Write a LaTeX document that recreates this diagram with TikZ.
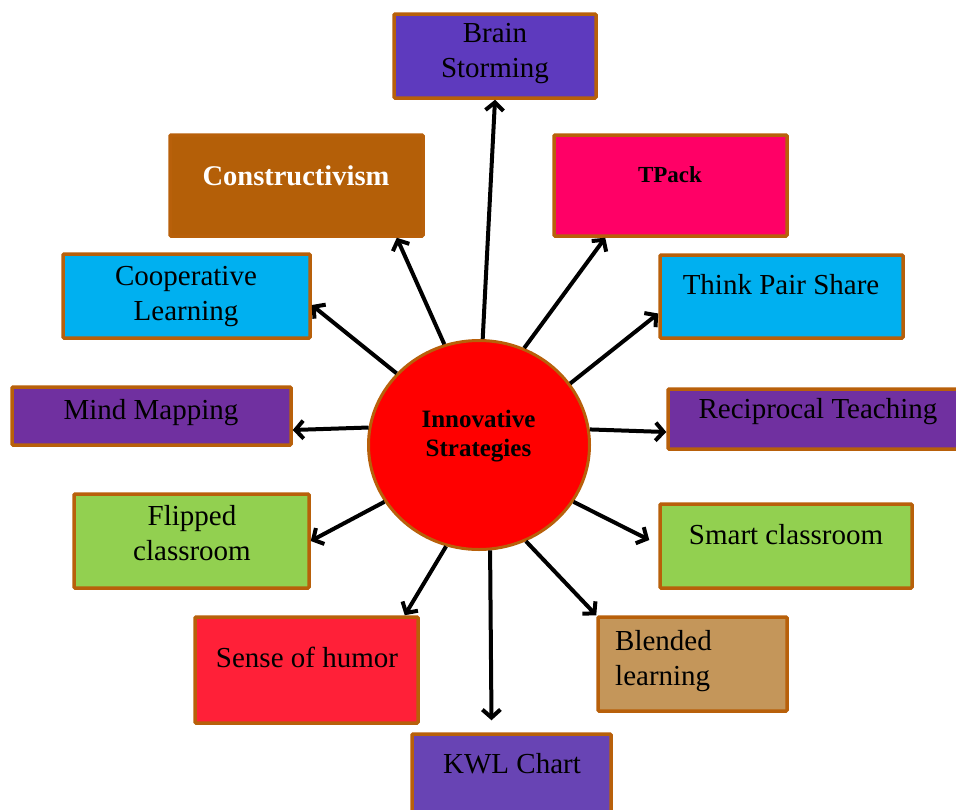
\documentclass[tikz,border=0pt]{standalone}
\usepackage{fontspec}
\setmainfont{Liberation Serif}
\usetikzlibrary{shapes.geometric,arrows.meta}

\definecolor{rim}{RGB}{184,96,10}
\definecolor{brainfill}{RGB}{94,58,190}
\definecolor{constfill}{RGB}{180,95,8}
\definecolor{tpackfill}{RGB}{255,0,102}
\definecolor{skyfill}{RGB}{0,176,240}
\definecolor{plumfill}{RGB}{112,48,160}
\definecolor{limefill}{RGB}{146,208,80}
\definecolor{humorfill}{RGB}{255,32,56}
\definecolor{tanfill}{RGB}{196,150,90}
\definecolor{kwlfill}{RGB}{104,68,180}

\begin{document}
\begin{tikzpicture}[
    x = 1pt, y = -1pt,
    box/.style = {draw = rim, line width = 3.5pt, rounded corners = 1pt, inner sep = 0pt},
    txt/.style = {inner sep = 0pt, align = center, font = \fontsize{29}{35}\selectfont},
    bold txt/.style = {inner sep = 0pt, align = center, font = \fontsize{23}{28}\selectfont\bfseries},
    link/.style = {line width = 4pt, -{Straight Barb[length = 8pt, width = 18pt]}}]

\useasboundingbox (0,0) rectangle (956,809);

% boxes round the hub
\node[box, fill = brainfill, minimum width = 202pt, minimum height = 84pt] (brain) at (495,56) {};
\node[box, fill = constfill, minimum width = 253pt, minimum height = 101pt] (const) at (296.5,185.5) {};
\node[box, fill = tpackfill, minimum width = 233pt, minimum height = 101pt] (tpack) at (670.5,185.5) {};
\node[box, fill = skyfill, minimum width = 247pt, minimum height = 84pt] (coop) at (186.5,296) {};
\node[box, fill = skyfill, minimum width = 243pt, minimum height = 83pt] (think) at (781.5,296.5) {};
\node[box, fill = plumfill, minimum width = 279pt, minimum height = 58pt] (mind) at (151.5,416) {};
\node[box, fill = plumfill, minimum width = 292pt, minimum height = 60pt] (recip) at (814,419) {};
\node[box, fill = limefill, minimum width = 235pt, minimum height = 94pt] (flip) at (191.5,541) {};
\node[box, fill = limefill, minimum width = 252pt, minimum height = 84pt] (smart) at (786,546) {};
\node[box, fill = humorfill, minimum width = 223pt, minimum height = 106pt] (humor) at (306.5,670) {};
\node[box, fill = tanfill, minimum width = 189pt, minimum height = 94pt] (blend) at (692.5,664) {};
\node[box, fill = kwlfill, minimum width = 199pt, minimum height = 94pt] (kwl) at (511.5,781) {};

% hub
\node[ellipse, draw = rim, line width = 3pt, fill = red, minimum width = 221pt, minimum height = 209pt] (hub) at (479,445) {};

% texts
\node[txt] (brain text) at (495,54) {Brain\\Storming};
\node[txt, font = \fontsize{28.5}{33}\selectfont\bfseries, text = white] (const text) at (296,176) {Constructivism};
\node[bold txt] (tpack text) at (670,175) {TPack};
\node[txt] (coop text) at (186,297) {Cooperative\\Learning};
\node[txt] (think text) at (781,285) {Think Pair Share};
\node[txt] (mind text) at (151,413) {Mind Mapping};
\node[txt] (recip text) at (818,412) {Reciprocal Teaching};
\node[txt] (flip text) at (192,533) {Flipped\\classroom};
\node[txt] (smart text) at (786,535) {Smart classroom};
\node[txt] (humor text) at (307,657) {Sense of humor};
\node[txt, align = left, anchor = west] (blend text) at (615,661) {Blended\\learning};
\node[txt] (kwl text) at (512,764) {KWL Chart};
\node[bold txt, font = \fontsize{25}{29}\selectfont\bfseries] (hub text) at (478.5,436) {Innovative\\Strategies};

% arrows
\draw[link] (hub.88) -- (brain.south);
\draw[link] (hub.109) -- ([xshift = -28pt]const.south east);
\draw[link] (hub.65) -- ([xshift = 53pt]tpack.south west);
\draw[link] (hub.139) -- ([yshift = -9pt]coop.east);
\draw[link] (hub.34) -- ([yshift = -17pt]think.west);
\draw[link] (hub.171) -- ([yshift = -14pt]mind.east);
\draw[link] (hub.8) -- ([yshift = -13pt]recip.west);
\draw[link] (hub.211) -- (flip.east);
\draw[link] (hub.329) -- ([xshift = -9pt, yshift = 6pt]smart.west);
\draw[link] (hub.252) -- ([xshift = -15pt]humor.north east);
\draw[link] (hub.296) -- (blend.north west);
\draw[link] (hub.276) -- ([xshift = -20pt, yshift = 12pt]kwl.north);
\end{tikzpicture}
\end{document}
